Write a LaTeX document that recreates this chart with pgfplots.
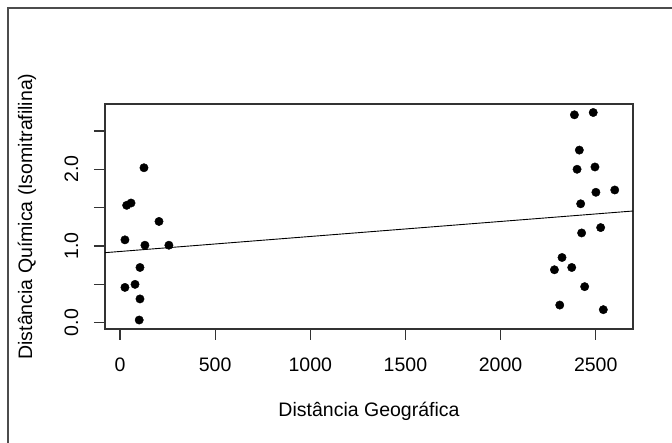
\documentclass[border=0pt]{standalone}
\usepackage{fontspec}
\setmainfont{Liberation Sans}
\usepackage{pgfplots}
\pgfplotsset{compat=1.18}

\begin{document}
\begin{tikzpicture}[font=\fontsize{19.5}{23}\selectfont]
\begin{axis}[
  scale only axis,
  width=528pt, height=225pt,
  xmin=-78.8, xmax=2696,
  ymin=-0.082, ymax=2.851,
  axis line style={black!80, line width=1.2pt},
  tick style={black!80, line width=1.2pt},
  tick align=outside,
  xtick pos=left, ytick pos=left,
  major tick length=11pt,
  xtick={0,500,1000,1500,2000,2500},
  ytick={0,0.5,1,1.5,2,2.5},
  yticklabels={0.0,,1.0,,2.0,},
  /pgf/number format/assume math mode=true,
  /pgf/number format/1000 sep={},
  xticklabel style={anchor=north, inner sep=0pt, yshift=-18pt},
  yticklabel style={rotate=90, anchor=south, inner sep=0pt},
  yticklabel shift=15.5pt,
  xlabel={Distância Geográfica},
  ylabel={Distância Química (Isomitrafilina)},
  every axis x label/.style={at={(axis description cs:0.5,-0.364)}, anchor=center},
  every axis y label/.style={at={(axis description cs:-0.148,0.5)}, anchor=center, rotate=90},
  clip=false,
]
\addplot[only marks, mark=*, mark size=4.2pt, black] table {
  x y
  126 2.02
  35 1.53
  58 1.56
  205 1.32
  26 1.08
  131 1.01
  257 1.01
  105 0.72
  26 0.46
  79 0.50
  105 0.31
  101 0.035
  2388 2.71
  2487 2.74
  2414 2.25
  2402 2.00
  2496 2.03
  2501 1.70
  2600 1.73
  2421 1.55
  2426 1.17
  2526 1.24
  2323 0.85
  2283 0.69
  2374 0.72
  2442 0.47
  2311 0.23
  2540 0.17
};
% fitted line (abline), read at the box edges
\addplot[black, line width=0.9pt] coordinates {(-78.8,0.913) (2696,1.456)};
\end{axis}
\draw[black!70, line width=1.5pt] (-97pt,-114pt) -- (-97pt,321pt) -- (567pt,321pt);
\pgfresetboundingbox
\path[use as bounding box] (-105pt,-114pt) rectangle (567pt,329pt);
\end{tikzpicture}
\end{document}
